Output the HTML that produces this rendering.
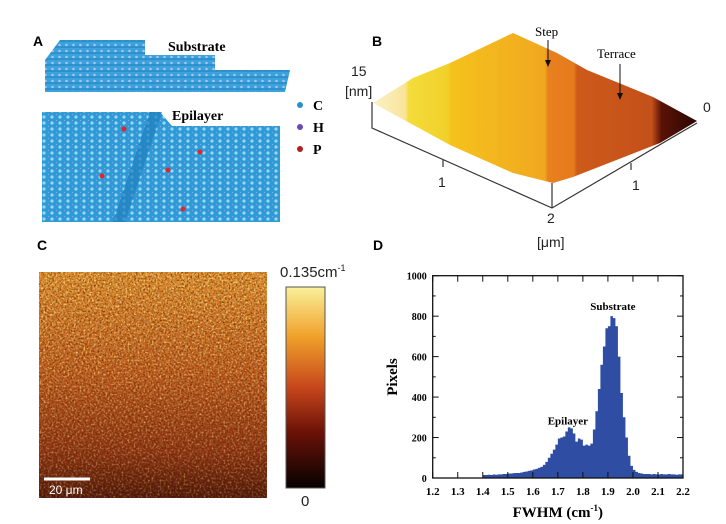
<!DOCTYPE html>
<html><head><meta charset="utf-8"><style>
body{margin:0;background:#fff;width:726px;height:524px;overflow:hidden;font-family:"Liberation Sans",sans-serif}
svg{display:block}
</style></head><body>
<svg width="726" height="524" viewBox="0 0 726 524">
<defs>
<pattern id="lat" width="8" height="6" patternUnits="userSpaceOnUse">
<rect width="8" height="6" fill="#2e9ad6"/><circle cx="4" cy="3" r="1.6" fill="#9bd6f5"/><circle cx="0" cy="0" r="1" fill="#b9a6e8"/>
</pattern>
<pattern id="lat2" width="7" height="6" patternUnits="userSpaceOnUse">
<rect width="7" height="6" fill="#3aa2dc"/><circle cx="3.5" cy="3" r="1.3" fill="#a9c2ee"/><line x1="0" y1="5" x2="7" y2="5" stroke="#1d7dbb" stroke-width="1"/>
</pattern>
<linearGradient id="surf" x1="373" y1="0" x2="697" y2="0" gradientUnits="userSpaceOnUse">
<stop offset="0" stop-color="#fbf1c8"/><stop offset="0.1" stop-color="#f8e49a"/><stop offset="0.11" stop-color="#f4dc3a"/>
<stop offset="0.23" stop-color="#f2d02a"/><stop offset="0.24" stop-color="#f5c21c"/><stop offset="0.53" stop-color="#f0a820"/>
<stop offset="0.54" stop-color="#e9801e"/><stop offset="0.62" stop-color="#e57a1c"/><stop offset="0.63" stop-color="#cd5a1a"/>
<stop offset="0.86" stop-color="#c4501a"/><stop offset="0.89" stop-color="#5a1206"/><stop offset="1" stop-color="#2a0603"/></linearGradient>
<linearGradient id="cmap" x1="0" y1="0" x2="0" y2="1">
<stop offset="0" stop-color="#f9f09a"/><stop offset="0.25" stop-color="#f0a02a"/><stop offset="0.5" stop-color="#c6461c"/>
<stop offset="0.72" stop-color="#6c1207"/><stop offset="1" stop-color="#050101"/></linearGradient>
<linearGradient id="cimg" x1="0" y1="0" x2="0" y2="1">
<stop offset="0" stop-color="#df8a28"/><stop offset="0.45" stop-color="#bc561a"/><stop offset="0.8" stop-color="#8a2e10"/><stop offset="1" stop-color="#4a1207"/></linearGradient>
<filter id="noise" x="0" y="0" width="100%" height="100%">
<feTurbulence type="fractalNoise" baseFrequency="0.5" numOctaves="2" seed="3"/>
<feColorMatrix type="matrix" values="0 0 0 0 1  0 0 0 0 0.8  0 0 0 0 0.3  2.4 0 0 0 -1.05"/>
<feComposite in2="SourceGraphic" operator="in"/>
</filter>
<filter id="noise2" x="0" y="0" width="100%" height="100%">
<feTurbulence type="fractalNoise" baseFrequency="0.55" numOctaves="2" seed="9"/>
<feColorMatrix type="matrix" values="0 0 0 0 0.12  0 0 0 0 0.02  0 0 0 0 0  2.2 0 0 0 -1.0"/>
<feComposite in2="SourceGraphic" operator="in"/>
</filter>
<linearGradient id="fade" x1="0" y1="0" x2="0" y2="1"><stop offset="0" stop-color="#fff" stop-opacity="1"/><stop offset="1" stop-color="#fff" stop-opacity="0.4"/></linearGradient>
<mask id="fm"><rect x="39" y="272" width="228" height="226" fill="url(#fade)"/></mask>
</defs>

<!-- Panel A -->
<g>
<text x="33" y="46" font-size="14" font-weight="bold">A</text>
<polygon points="60,40 145,40 145,55 215,55 215,70 290,70 285,92 45,92 45,60" fill="url(#lat2)"/>
<text x="168" y="51" font-family="Liberation Serif" font-weight="bold" font-size="14">Substrate</text>
<polygon points="42,112 160,112 172,126 280,126 280,222 42,222" fill="url(#lat)"/>
<polygon points="150,112 162,112 125,222 113,222" fill="#1f7fbf" opacity="0.7"/>
<text x="172" y="120" font-family="Liberation Serif" font-weight="bold" font-size="14">Epilayer</text>
<g fill="#e0262a"><circle cx="124" cy="129" r="2.5"/><circle cx="102" cy="176" r="2.5"/><circle cx="168" cy="170" r="2.5"/><circle cx="200" cy="152" r="2.5"/><circle cx="183" cy="209" r="2.5"/></g>
<g font-family="Liberation Serif" font-weight="bold" font-size="14">
<circle cx="300" cy="105" r="3" fill="#2a8fcf"/><text x="313" y="110">C</text>
<circle cx="300" cy="127" r="3" fill="#6a4ab8"/><text x="313" y="132">H</text>
<circle cx="300" cy="149" r="3" fill="#b02020"/><text x="313" y="154">P</text>
</g>
</g>

<!-- Panel B -->
<g>
<text x="372" y="46" font-size="14" font-weight="bold">B</text>
<polygon points="373,103 413,78 450,63 513,33 557,53 587,70 653,97 697,121 660,143 573,177 553,183 513,173 450,145" fill="url(#surf)"/>
<g stroke="#333" fill="none" stroke-width="1.2">
<polyline points="372,102 372,128 552,208 697,123"/><line x1="552" y1="183" x2="552" y2="208"/>
<line x1="443" y1="160" x2="443" y2="167"/><line x1="631" y1="163" x2="631" y2="170"/>
</g>
<g font-size="14" fill="#222">
<text x="351" y="76">15</text><text x="345" y="96">[nm]</text><text x="703" y="112">0</text>
<text x="438" y="187">1</text><text x="632" y="190">1</text><text x="547" y="223">2</text><text x="537" y="247">[μm]</text>
</g>
<text x="535" y="36" font-family="Liberation Serif" font-size="13">Step</text>
<text x="597" y="58" font-family="Liberation Serif" font-size="13">Terrace</text>
<g stroke="#111" stroke-width="1"><line x1="548" y1="40" x2="548" y2="63"/><line x1="620" y1="64" x2="620" y2="96"/></g>
<polygon points="545,60 551,60 548,67" fill="#111"/><polygon points="617,93 623,93 620,100" fill="#111"/>
</g>

<!-- Panel C -->
<g>
<text x="37" y="250" font-size="14" font-weight="bold">C</text>
<rect x="39" y="272" width="228" height="226" fill="url(#cimg)"/>
<rect x="39" y="272" width="228" height="226" fill="#fff" filter="url(#noise)" mask="url(#fm)"/>
<rect x="39" y="272" width="228" height="226" fill="#fff" filter="url(#noise2)"/>
<line x1="44" y1="479" x2="90" y2="479" stroke="#fff" stroke-width="3"/>
<text x="49" y="494" font-size="12" fill="#fff">20 μm</text>
<rect x="286" y="287" width="39" height="201" fill="url(#cmap)" stroke="#555"/>
<text x="280" y="277" font-size="15" fill="#222">0.135cm<tspan font-size="9" dy="-6">-1</tspan></text>
<text x="301" y="506" font-size="15" fill="#222">0</text>
</g>

<!-- Panel D -->
<g id="pd">
<text x="373" y="250" font-size="14" font-weight="bold">D</text>
</g>
</svg>
<script>
const xStart = 1.40;
const binWidth = 0.01;
const counts = [15,15,16,15,17,16,18,18,20,20,
 22,22,24,25,25,27,30,32,35,38,
 42,45,50,55,65,80,100,120,140,165,
 195,200,205,230,250,245,220,180,195,190,
 160,165,160,170,240,330,440,560,650,740,
 750,800,790,750,600,420,300,200,110,60,
 40,30,25,22,20,20,20,18,20,18,
 18,20,18,18,20,18,18,16,18,18];
const xTicks = [1.2,1.3,1.4,1.5,1.6,1.7,1.8,1.9,2.0,2.1,2.2];
const yTicks = [0,200,400,600,800,1000];
const annotations = [{text:'Epilayer', x:1.74, y:265},{text:'Substrate', x:1.92, y:830}];

const NS='http://www.w3.org/2000/svg';
const g=document.getElementById('pd');
const L=432.7,R=683,T=275.7,B=478;
const sx=v=>L+(v-1.2)/(2.2-1.2)*(R-L);
const sy=v=>B-v/1000*(B-T);
function mk(tag,attrs){const e=document.createElementNS(NS,tag);for(const k in attrs)e.setAttribute(k,attrs[k]);g.appendChild(e);return e;}
let d='M'+sx(xStart)+','+sy(0);
counts.forEach((c,i)=>{const x0=sx(xStart+i*binWidth),x1=sx(xStart+(i+1)*binWidth);d+=' L'+x0+','+sy(c)+' L'+x1+','+sy(c);});
d+=' L'+sx(xStart+counts.length*binWidth)+','+sy(0)+'Z';
const hist=mk('path',{d:d,fill:'#2f4ea3'});


const frame=mk('rect',{x:L,y:T,width:R-L,height:B-T,fill:'none',stroke:'#111','stroke-width':1.3});


xTicks.forEach(v=>{
 const x=sx(v);
 mk('line',{x1:x,y1:B,x2:x,y2:B-6,stroke:'#111'});
 mk('line',{x1:x,y1:T,x2:x,y2:T+6,stroke:'#111'});
 const t=mk('text',{x:x,y:B+17,'text-anchor':'middle','font-family':'Liberation Serif','font-weight':'bold','font-size':11});
 t.textContent=v.toFixed(1);
 
 
});
yTicks.forEach(v=>{
 const y=sy(v);
 mk('line',{x1:L,y1:y,x2:L+6,y2:y,stroke:'#111'});
 mk('line',{x1:R,y1:y,x2:R-6,y2:y,stroke:'#111'});
 if(v<1000){mk('line',{x1:L,y1:sy(v+100),x2:L+3,y2:sy(v+100),stroke:'#111'});mk('line',{x1:R,y1:sy(v+100),x2:R-3,y2:sy(v+100),stroke:'#111'});}
 const t=mk('text',{x:L-6,y:y+4,'text-anchor':'end','font-family':'Liberation Serif','font-weight':'bold','font-size':10});
 t.textContent=v;
 
 
});
annotations.forEach(a=>{
 const t=mk('text',{x:sx(a.x),y:sy(a.y),'text-anchor':'middle','font-family':'Liberation Serif','font-weight':'bold','font-size':11});
 t.textContent=a.text;
 
 
});
const xt=mk('text',{x:(L+R)/2,y:517,'text-anchor':'middle','font-family':'Liberation Serif','font-weight':'bold','font-size':15});
xt.innerHTML='FWHM (cm<tspan font-size="9" dy="-6">-1</tspan><tspan dy="6">)</tspan>';


const yt=mk('text',{x:0,y:0,'text-anchor':'middle','font-family':'Liberation Serif','font-weight':'bold','font-size':15,transform:'translate(397,377) rotate(-90)'});
yt.textContent='Pixels';


</script>
</body></html>
